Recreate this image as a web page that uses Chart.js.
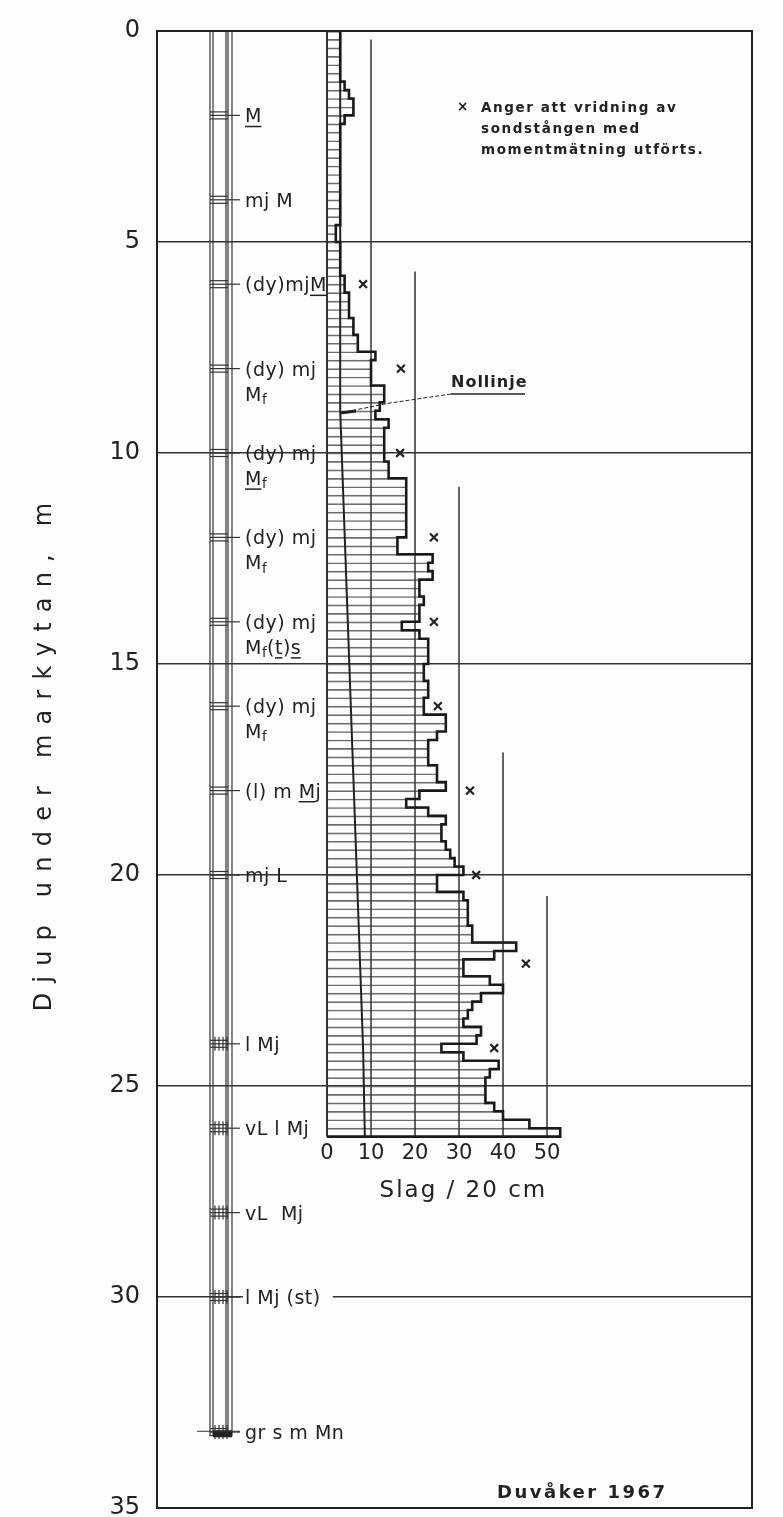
<!DOCTYPE html>
<html>
<head>
<meta charset="utf-8">
<script src="https://cdn.jsdelivr.net/npm/chart.js@4.4.1/dist/chart.umd.min.js"></script>
<style>
  html, body { margin: 0; padding: 0; background: #fdfdfd; }
  #wrap { width: 783px; height: 1517px; position: relative; }
</style>
</head>
<body>
<div id="wrap"><canvas id="sondering"></canvas></div>
<script>
// ram sounding, blows per 20 cm, one value per 0.2 m from the surface down
var binStep = 0.2;
var blows = [
  3, 3, 3, 3, 3, 3, 4, 5, 6, 6,
  4, 3, 3, 3, 3, 3, 3, 3, 3, 3,
  3, 3, 3, 2, 2, 3, 3, 3, 3, 4,
  4, 5, 5, 5, 6, 6, 7, 7, 11, 10,
  10, 10, 13, 13, 12, 11, 14, 13, 13, 13,
  13, 14, 14, 18, 18, 18, 18, 18, 18, 18,
  16, 16, 24, 23, 24, 21, 21, 22, 21, 21,
  17, 21, 23, 23, 23, 22, 22, 23, 23, 22,
  22, 27, 27, 25, 23, 23, 23, 25, 25, 27,
  21, 18, 23, 27, 26, 26, 27, 28, 29, 31,
  25, 25, 31, 32, 32, 32, 33, 33, 43, 38,
  31, 31, 37, 40, 35, 33, 32, 31, 35, 34,
  26, 31, 39, 37, 36, 36, 36, 38, 40, 46,
  53
];

// "Nollinje" (zero line for rod friction)
var nollDepths = [0, 9.0, 24.1, 24.1, 26.2];
var nollValues = [3, 3, 8.2, 8.4, 8.6];

// torque measurements (x)
var crossDepths = [6.0, 8.0, 10.0, 12.0, 14.0, 16.0, 18.0, 20.0, 22.1, 24.1];
var crossValues = [8.2, 16.8, 16.6, 24.3, 24.3, 25.2, 32.5, 33.9, 45.2, 38.0];

// vertical reference lines and where they start
var refValues = [0, 10, 20, 30, 40, 50];
var refTops = [0, 0.2, 5.7, 10.8, 17.1, 20.5];

var blowTicks = [0, 10, 20, 30, 40, 50];

// soil samples
var sampleDepths = [2, 4, 6, 8, 10, 12, 14, 16, 18, 20, 24, 26, 28, 30, 33.2];
var sampleLine1 = ['~M', 'mj M', '(dy)mj~M', '(dy) mj', '(dy) mj', '(dy) mj', '(dy) mj', '(dy) mj',
  '(l) m ~Mj', 'mj L', 'l Mj', 'vL l Mj', 'vL  Mj', 'l Mj (st)', 'gr s m Mn'];
var sampleLine2 = ['', '', '', 'M_f', '~M_f', 'M_f', 'M_f(~t)~s', 'M_f', '', '', '', '', '', '', ''];

var endDepth = blows.length * binStep;

var barData = blows.map(function (v, i) { return { x: v, y: i * binStep + binStep / 2 }; });
var outline = [{ x: 0, y: 0 }];
blows.forEach(function (v, i) { outline.push({ x: v, y: i * binStep }); });
outline.push({ x: blows[blows.length - 1], y: endDepth });
outline.push({ x: 0, y: endDepth });

var datasets = [];
datasets.push({
  type: 'bar', indexAxis: 'y', data: barData,
  backgroundColor: 'rgba(0,0,0,0)', borderColor: '#6e6e6e',
  borderWidth: { top: 1, right: 0, bottom: 0, left: 0 }, borderSkipped: false,
  categoryPercentage: 1, barPercentage: 1, grouped: false, order: 5
});
refValues.forEach(function (v, i) {
  datasets.push({
    type: 'line', data: [{ x: v, y: refTops[i] }, { x: v, y: endDepth }],
    borderColor: '#333', borderWidth: i === 0 ? 2 : 1.5, pointRadius: 0, order: 4
  });
});
datasets.push({
  type: 'line', data: nollDepths.map(function (d, i) { return { x: nollValues[i], y: d }; }),
  borderColor: '#222', borderWidth: 2, pointRadius: 0, order: 3
});
datasets.push({
  type: 'line', data: outline, stepped: 'after',
  borderColor: '#1a1a1a', borderWidth: 2.6, pointRadius: 0, order: 2
});
datasets.push({
  type: 'scatter', data: crossDepths.map(function (d, i) { return { x: crossValues[i], y: d }; }),
  pointStyle: 'crossRot', pointRadius: 5.5, borderColor: '#222', borderWidth: 2.2, order: 1
});

function richWidth(ctx, str, size) {
  var w = 0, i = 0;
  while (i < str.length) {
    var ch = str[i], sub = false;
    if (ch === '~') { i++; ch = str[i]; }
    if (ch === '_') { sub = true; i++; ch = str[i]; }
    ctx.font = (sub ? size * 0.7 : size) + 'px "DejaVu Sans"';
    w += ctx.measureText(ch).width + 0.5;
    i++;
  }
  return w;
}

function drawRich(ctx, str, x, y, size) {
  var cx = x, i = 0;
  while (i < str.length) {
    var ch = str[i], under = false, sub = false;
    if (ch === '~') { under = true; i++; ch = str[i]; }
    if (ch === '_') { sub = true; i++; ch = str[i]; }
    var s = sub ? size * 0.7 : size;
    ctx.font = s + 'px "DejaVu Sans"';
    var w = ctx.measureText(ch).width;
    var yy = sub ? y + size * 0.25 : y;
    ctx.fillText(ch, cx, yy);
    if (under) {
      ctx.beginPath();
      ctx.lineWidth = 1.5;
      ctx.moveTo(cx, yy + s * 0.48);
      ctx.lineTo(cx + w, yy + s * 0.48);
      ctx.stroke();
    }
    cx += w + 0.5;
    i++;
  }
}

var decor = {
  id: 'decor',
  beforeDatasetsDraw: function (chart) {
    var ctx = chart.ctx, ys = chart.scales.y, a = chart.chartArea;
    var colX = [a.left + 53, a.left + 56, a.left + 69, a.left + 71, a.left + 75];
    var colBottom = ys.getPixelForValue(33.3);
    ctx.save();
    ctx.strokeStyle = '#333';
    ctx.lineWidth = 1.2;
    colX.forEach(function (x) {
      ctx.beginPath(); ctx.moveTo(x, a.top); ctx.lineTo(x, colBottom); ctx.stroke();
    });
    // sample symbols
    sampleDepths.forEach(function (d, k) {
      var y = ys.getPixelForValue(d);
      ctx.lineWidth = 1.2;
      for (var j = -1; j <= 1; j++) {
        ctx.beginPath(); ctx.moveTo(colX[0], y + j * 3.5); ctx.lineTo(colX[3], y + j * 3.5); ctx.stroke();
      }
      if (k >= 10) {
        for (var c = 0; c < 4; c++) {
          var xx = colX[1] + 2 + c * 4;
          ctx.beginPath(); ctx.moveTo(xx, y - 7); ctx.lineTo(xx, y + 7); ctx.stroke();
        }
      }
      ctx.beginPath(); ctx.moveTo(colX[3], y); ctx.lineTo(colX[4] + 8, y); ctx.stroke();
    });
    // bottom block
    ctx.fillStyle = '#222';
    ctx.fillRect(colX[1], colBottom - 6, colX[4] - colX[1], 7);
    ctx.beginPath(); ctx.moveTo(a.left + 40, colBottom - 5); ctx.lineTo(colX[4] + 8, colBottom - 5); ctx.stroke();
    ctx.restore();
  },
  afterDraw: function (chart) {
    var ctx = chart.ctx, ys = chart.scales.y, xs = chart.scales.x, a = chart.chartArea;
    ctx.save();
    // frame
    ctx.strokeStyle = '#222';
    ctx.lineWidth = 2;
    ctx.strokeRect(a.left, a.top, a.right - a.left, a.bottom - a.top);

    ctx.fillStyle = '#222';
    ctx.strokeStyle = '#222';
    ctx.textBaseline = 'middle';
    ctx.textAlign = 'left';
    // soil labels
    sampleDepths.forEach(function (d, k) {
      var y = ys.getPixelForValue(d) + 2;
      var x = a.left + 88;
      if (d === 30) {
        ctx.fillStyle = '#fdfdfd';
        ctx.fillRect(x - 2, y - 12, richWidth(ctx, sampleLine1[k], 19) + 14, 22);
        ctx.fillStyle = '#222';
      }
      drawRich(ctx, sampleLine1[k], x, y, 19);
      if (sampleLine2[k]) drawRich(ctx, sampleLine2[k], x, y + 25, 19);
    });

    // blow tick labels
    ctx.font = '21px "DejaVu Sans"';
    ctx.textAlign = 'center';
    var ty = ys.getPixelForValue(endDepth + 0.4);
    blowTicks.forEach(function (v) {
      ctx.fillText(String(v), xs.getPixelForValue(v), ty);
    });
    ctx.font = '23px "DejaVu Sans"';
    ctx.letterSpacing = '2px';
    ctx.fillText('Slag / 20 cm', xs.getPixelForValue(31), ys.getPixelForValue(endDepth + 1.3));

    // depth axis title
    ctx.save();
    ctx.translate(45, 752);
    ctx.rotate(-Math.PI / 2);
    ctx.font = '24px "DejaVu Sans"';
    var t = 'Djup under markytan, m';
    ctx.letterSpacing = '0px';
    var w = ctx.measureText(t).width;
    ctx.letterSpacing = ((508 - w) / (t.length - 1)).toFixed(1) + 'px';
    ctx.fillText(t, 0, 0);
    ctx.restore();

    // legend note
    ctx.letterSpacing = '1.6px';
    ctx.textAlign = 'left';
    ctx.font = 'bold 13.5px "DejaVu Sans"';
    ctx.fillText('\u00d7', a.left + 300, a.top + 76);
    ctx.fillText('Anger att vridning av', a.left + 324, a.top + 77);
    ctx.fillText('sondst\u00e5ngen med', a.left + 324, a.top + 98);
    ctx.fillText('momentm\u00e4tning utf\u00f6rts.', a.left + 324, a.top + 119);

    // Nollinje label and leader
    ctx.letterSpacing = '1px';
    ctx.font = 'bold 16px "DejaVu Sans"';
    ctx.fillText('Nollinje', 451, 383);
    ctx.lineWidth = 1.5;
    ctx.beginPath(); ctx.moveTo(451, 394); ctx.lineTo(525, 394); ctx.stroke();
    ctx.lineWidth = 1;
    ctx.setLineDash([4, 2]);
    ctx.beginPath(); ctx.moveTo(451, 394); ctx.lineTo(390, 403); ctx.lineTo(345, 412); ctx.stroke();
    ctx.setLineDash([]);
    ctx.lineWidth = 3;
    ctx.beginPath(); ctx.moveTo(340, 413); ctx.lineTo(356, 411); ctx.stroke();

    // signature
    ctx.letterSpacing = '2.5px';
    ctx.font = 'bold 18px "DejaVu Sans"';
    ctx.fillText('Duv\u00e5ker 1967', 497, 1493);
    ctx.restore();
  }
};

var ctx = document.getElementById('sondering').getContext('2d');
var chart = new Chart(ctx, {
  type: 'bar',
  data: { datasets: datasets },
  options: {
    responsive: true,
    maintainAspectRatio: false,
    animation: false,
    events: [],
    layout: { padding: { top: 31, right: 31, bottom: 9, left: 0 } },
    plugins: { legend: { display: false }, tooltip: { enabled: false } },
    scales: {
      x: { type: 'linear', min: -38.64, max: 96.59, display: false, offset: false, grid: { offset: false } },
      y: {
        type: 'linear', min: 0, max: 35, reverse: true, offset: false,
        ticks: { stepSize: 5, color: '#222', padding: 17, font: { family: 'DejaVu Sans', size: 24 } },
        grid: { color: '#333', lineWidth: 1.5, drawTicks: false, offset: false },
        border: { display: false },
        afterFit: function (scale) { scale.width = 157; scale.paddingTop = 0; scale.paddingBottom = 0; }
      }
    }
  },
  plugins: [decor]
});
</script>
</body>
</html>
